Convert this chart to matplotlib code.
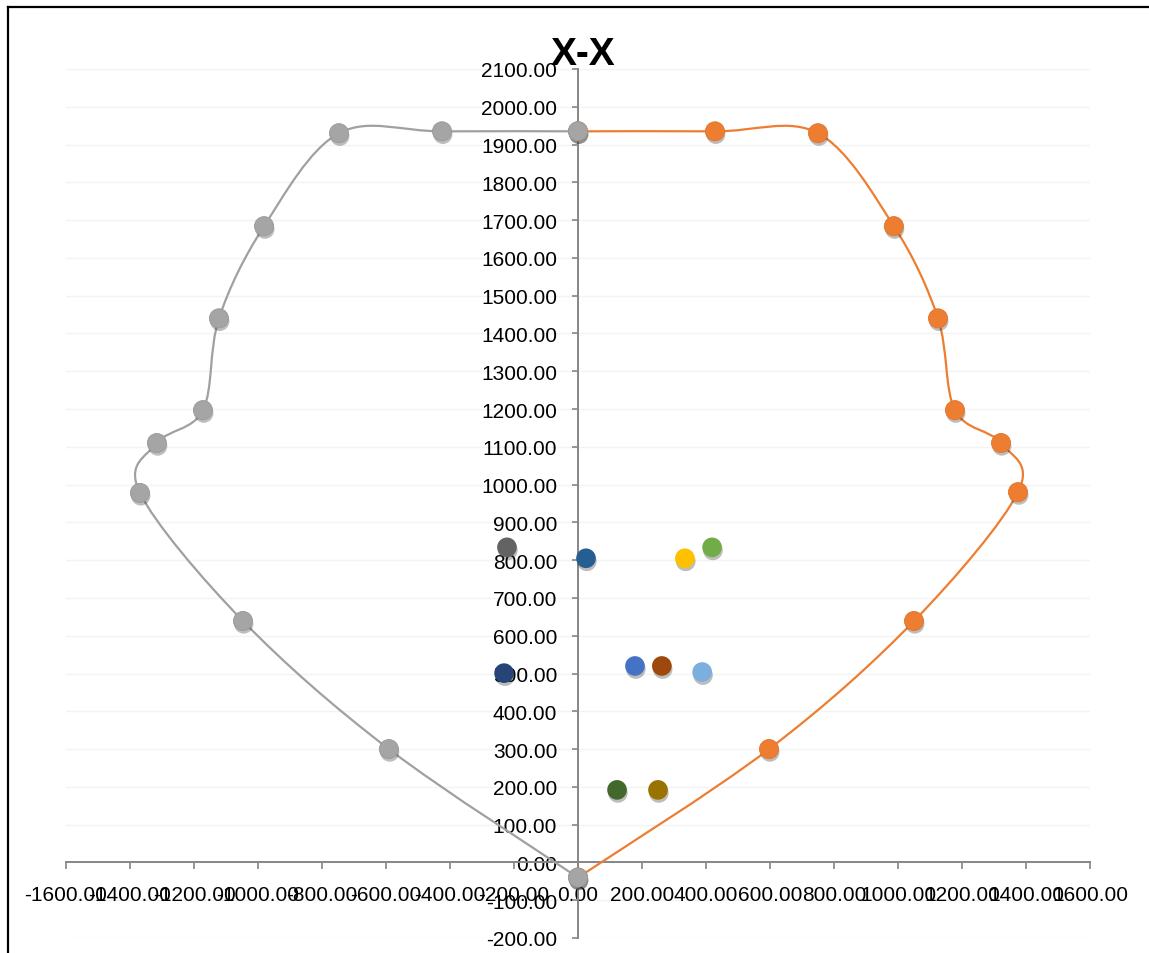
import numpy as np
import matplotlib
matplotlib.use("Agg")
import matplotlib.pyplot as plt
from matplotlib.path import Path
from matplotlib.patches import PathPatch
from matplotlib.lines import Line2D
import matplotlib.patheffects as pe

plt.rcParams['font.family'] = ['Liberation Sans', 'DejaVu Sans']

# ---- data ----
right_x = [0, 597, 1050, 1375, 1322, 1178, 1125, 987, 750, 428, 0]
right_y = [-40, 300, 639, 980, 1110, 1197, 1440, 1684, 1930, 1935, 1935]
left_x = [0, -591, -1047, -1369, -1316, -1172, -1122, -981, -747, -425, 0]
left_y = [-40, 300, 639, 978, 1110, 1197, 1440, 1684, 1930, 1935, 1935]

pts_x = [-222, 25, 334, 419, -231, 178, 262, 388, 122, 250]
pts_y = [834, 805, 805, 834, 501, 520, 520, 504, 192, 192]
pts_c = ['#636363', '#255E91', '#FFC000', '#70AD47', '#264478',
         '#4472C4', '#9E480E', '#7CAFDD', '#43682B', '#997300']

xticks = list(range(-1600, 1601, 200))
yticks = list(range(-200, 2101, 100))


def smooth_path(xs, ys):
    P = np.column_stack([xs, ys]).astype(float)
    n = len(P)
    verts = [P[0]]
    codes = [Path.MOVETO]
    for i in range(n - 1):
        p0 = P[i - 1] if i > 0 else P[i]
        p1 = P[i]
        p2 = P[i + 1]
        p3 = P[i + 2] if i + 2 < n else P[i + 1]
        c1 = p1 + (p2 - p0) / 6.0
        c2 = p2 - (p3 - p1) / 6.0
        verts += [c1, c2, p2]
        codes += [Path.CURVE4] * 3
    return Path(verts, codes)


fig = plt.figure(figsize=(11.49, 9.54), dpi=100)
ax = fig.add_axes([66 / 1149, 15 / 954, 1024 / 1149, 869 / 954])
ax.set_xlim(-1600, 1600)
ax.set_ylim(-200, 2100)

for y in yticks:
    ax.axhline(y, color='#F3F3F3', lw=1, zorder=0)

shadow = [pe.SimplePatchShadow(offset=(0.6, -2.2), shadow_rgbFace=(0.15, 0.15, 0.15),
                               alpha=0.3), pe.Normal()]

ax.add_patch(PathPatch(smooth_path(right_x, right_y), fill=False,
                       edgecolor='#ED7D31', lw=1.6, zorder=3))
ax.scatter(right_x, right_y, s=190, color='#ED7D31', zorder=4,
           edgecolors='#E0762E', linewidths=0.6, path_effects=shadow)

ax.add_patch(PathPatch(smooth_path(left_x, left_y), fill=False,
                       edgecolor='#A0A0A0', lw=1.6, zorder=5))
ax.scatter(left_x, left_y, s=190, color='#A5A5A5', zorder=6,
           edgecolors='#999999', linewidths=0.6, path_effects=shadow)

ax.scatter(pts_x, pts_y, s=200, c=pts_c, zorder=7, linewidths=0,
           path_effects=shadow)

for s in ['top', 'right']:
    ax.spines[s].set_visible(False)
ax.spines['left'].set_position(('data', 0))
ax.spines['bottom'].set_position(('data', 0))
for s in ['left', 'bottom']:
    ax.spines[s].set_color('#868686')
    ax.spines[s].set_linewidth(1.4)
    ax.spines[s].set_zorder(2)

ax.set_xticks(xticks)
ax.set_yticks(yticks)
ax.set_xticklabels([f"{v:.2f}" for v in xticks])
ax.set_yticklabels([f"{v:.2f}" for v in yticks])
ax.tick_params(axis='y', direction='out', length=4, width=1.2, color='#868686',
               labelsize=15, pad=11)
ax.tick_params(axis='x', direction='out', length=5, width=1.2, color='#868686',
               labelsize=15, pad=11)

fig.text(583 / 1149, 1 - 55 / 954, 'X-X', ha='center', va='center',
         fontsize=28, fontweight='bold')

# outer frame (partial)
fig.add_artist(Line2D([8 / 1149, 8 / 1149], [0, 1 - 8 / 954], color='black',
                      lw=1.6, transform=fig.transFigure))
fig.add_artist(Line2D([8 / 1149, 1], [1 - 8 / 954, 1 - 8 / 954], color='black',
                      lw=1.6, transform=fig.transFigure))

fig.savefig('out.png', dpi=100)
